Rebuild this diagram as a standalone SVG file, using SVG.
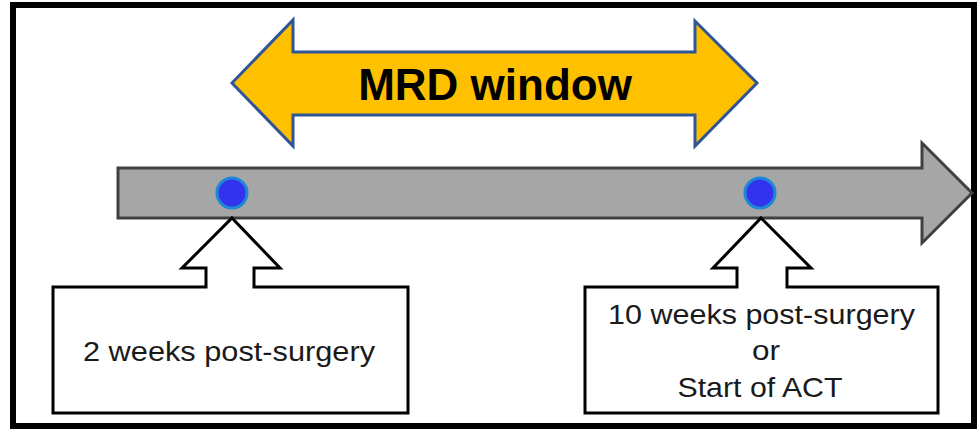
<svg xmlns="http://www.w3.org/2000/svg" width="977" height="429" viewBox="0 0 977 429">
<style>
.lbl{font-family:"Liberation Sans",Arial,sans-serif;font-size:27.5px;fill:#1a1a1a;text-anchor:middle}
.call{fill:#fff;stroke:#000;stroke-width:3;stroke-linejoin:miter}
.dot{fill:#3333ee;stroke:#1e88d8;stroke-width:3}
</style>
<rect x="0" y="0" width="977" height="429" fill="#fff"/>
<rect id="frame" x="13" y="5" width="961" height="421" fill="none" stroke="#000" stroke-width="6"/>
<g id="mrd-window">
<path d="M232,83 L293,20 L293,52 L695,52 L695,21 L757,83 L695,146 L695,115 L293,115 L293,146 Z" fill="#ffc000" stroke="#2f5597" stroke-width="3" stroke-linejoin="miter"/>
<text x="495" y="100" font-family="'Liberation Sans',Arial,sans-serif" font-size="44" font-weight="bold" fill="#000" text-anchor="middle">MRD window</text>
</g>
<g id="timeline">
<path d="M118,168 L922,168 L922,143 L972,193 L922,243 L922,218 L118,218 Z" fill="#a6a6a6" stroke="#404040" stroke-width="3"/>
</g>
<g id="connectors">
<circle class="dot" cx="232" cy="193" r="15"/>
<circle class="dot" cx="760" cy="193" r="15"/>
</g>
<g id="node-2weeks">
<path class="call" d="M232,218 L280,268 L254,268 L254,287 L408,287 L408,413 L53,413 L53,287 L206,287 L206,268 L182,268 Z"/>
<text class="lbl" x="229" y="361" textLength="292" lengthAdjust="spacingAndGlyphs">2 weeks post-surgery</text>
</g>
<g id="node-10weeks">
<path class="call" d="M761,218 L811,268 L787,268 L787,287 L938,287 L938,413 L585,413 L585,287 L737,287 L737,268 L713,268 Z"/>
<text class="lbl" x="761.5" y="324" textLength="307" lengthAdjust="spacingAndGlyphs">10 weeks post-surgery</text>
<text class="lbl" x="766" y="360" textLength="28" lengthAdjust="spacingAndGlyphs">or</text>
<text class="lbl" x="760" y="397" textLength="165" lengthAdjust="spacingAndGlyphs">Start of ACT</text>
</g>
</svg>
